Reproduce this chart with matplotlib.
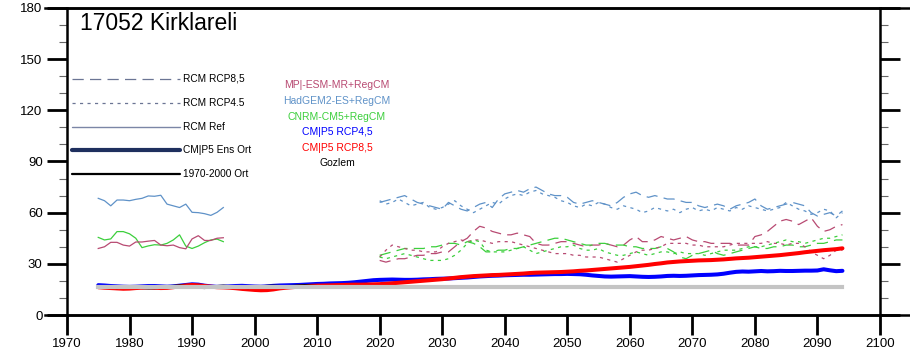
import numpy as np
import matplotlib.pyplot as plt
from matplotlib.lines import Line2D
from matplotlib.ticker import MultipleLocator

plt.rcParams['font.family'] = ['Liberation Sans', 'DejaVu Sans']

# ---- data ----
hist_years = list(range(1975, 1996))
fut_years = list(range(2020, 2095))
cmip_years = list(range(1975, 2095))
obs_years = list(range(1975, 2011))

# RCM reference runs (1975-1995)
had_ref = [68.4, 67.0, 64.0, 67.4, 67.4, 67.0, 67.8, 68.4, 69.8, 69.6, 70.2,
           65.0, 64.0, 63.0, 65.0, 60.2, 60.0, 59.4, 58.4, 60.2, 63.0]
cnrm_ref = [45.5, 44.0, 44.6, 48.9, 48.9, 47.6, 45.0, 39.5, 40.5, 41.2, 41.0,
            42.0, 44.0, 47.0, 40.4, 39.0, 40.4, 42.4, 44.0, 44.5, 43.0]
mpi_ref = [39.0, 40.0, 42.6, 42.6, 41.0, 40.4, 42.8, 42.8, 43.3, 43.7, 41.0,
           40.6, 41.0, 39.5, 38.8, 44.6, 46.5, 43.7, 43.7, 45.0, 45.3]

# RCM scenario runs (2020-2094)
had_85 = [66, 67, 68, 69, 70, 68, 66, 65, 64, 63,
          62, 66, 64, 62, 61, 63, 65, 66, 63, 68,
          71, 72, 73, 72, 74, 75, 73, 71, 70, 70,
          69, 66, 65, 66, 67, 66, 65, 64, 66, 69,
          71, 72, 70, 69, 70, 69, 68, 68, 67, 66,
          66, 64, 63, 64, 65, 64, 62, 64, 65, 66,
          68, 64, 62, 63, 64, 65, 66, 65, 64, 60,
          58, 59, 60, 58, 61]
had_45 = [67, 65, 66, 68, 66, 64, 65, 66, 63, 62,
          63, 65, 67, 64, 62, 60, 62, 64, 66, 65,
          68, 70, 71, 70, 72, 73, 71, 70, 69, 67,
          66, 64, 63, 65, 64, 66, 65, 63, 62, 64,
          63, 62, 60, 61, 63, 62, 61, 62, 60, 62,
          63, 61, 62, 61, 63, 62, 61, 63, 62, 64,
          63, 62, 61, 62, 63, 66, 64, 62, 61, 59,
          60, 62, 61, 57, 60]
mpi_85 = [32, 31, 32, 33, 33, 34, 35, 35, 36, 36,
          37, 37, 40, 43, 45, 49, 52, 51, 49, 48,
          47, 47, 48, 47, 46, 42, 41, 41, 42, 43,
          43, 42, 41, 40, 41, 41, 42, 41, 40, 41,
          44, 46, 43, 43, 44, 46, 45, 44, 45, 46,
          44, 43, 43, 42, 42, 42, 42, 41, 41, 41,
          46, 47, 49, 52, 55, 56, 55, 53, 55, 57,
          52, 49, 50, 52, 53]
mpi_45 = [34, 38, 41, 40, 39, 38, 38, 37, 37, 37,
          40, 42, 43, 44, 43, 44, 44, 43, 42, 43,
          43, 43, 42, 41, 40, 39, 38, 37, 36, 36,
          36, 35, 35, 34, 34, 34, 33, 32, 31, 33,
          35, 37, 38, 38, 39, 40, 42, 42, 42, 42,
          41, 41, 40, 40, 40, 40, 41, 42, 42, 42,
          42, 42, 43, 42, 42, 41, 42, 42, 40, 37,
          35, 33, 35, 38, 38]
cnrm_85 = [35, 36, 37, 38, 39, 39, 39, 39, 40, 40,
           41, 42, 42, 41, 43, 42, 40, 37, 37, 38,
           38, 39, 39, 40, 41, 42, 43, 44, 45, 45,
           44, 43, 42, 41, 41, 42, 42, 41, 41, 41,
           40, 40, 39, 39, 39, 40, 39, 37, 34, 33,
           35, 36, 37, 38, 36, 35, 36, 37, 38, 39,
           40, 39, 39, 40, 40, 41, 41, 40, 40, 41,
           42, 42, 43, 44, 44]
cnrm_45 = [34, 33, 34, 35, 36, 35, 34, 33, 32, 32,
           32, 33, 35, 38, 42, 44, 43, 38, 37, 37,
           37, 38, 39, 40, 38, 36, 37, 38, 39, 40,
           40, 41, 39, 38, 38, 39, 37, 36, 35, 35,
           36, 37, 36, 35, 36, 37, 37, 36, 37, 36,
           36, 36, 35, 36, 37, 38, 38, 38, 39, 40,
           40, 40, 41, 42, 43, 44, 43, 43, 42, 43,
           44, 45, 45, 46, 47]

# CMIP5 ensemble means (1975-2094)
cmip_45 = [17.5, 17.3, 17.0, 16.8, 16.6, 16.5, 16.6, 16.8, 17.0, 17.0, 16.8,
           16.6, 16.8, 17.2, 17.6, 18.0, 17.8, 17.2, 16.8, 16.5, 16.6,
           16.8, 17.0, 17.1, 16.9, 16.7, 16.6, 16.8, 17.1, 17.3, 17.4,
           17.5, 17.6, 17.8, 18.0, 18.2, 18.3, 18.5, 18.6, 18.7, 18.9,
           19.2, 19.6, 20.0, 20.4, 20.6, 20.7, 20.8, 20.7, 20.6, 20.6,
           20.7, 20.9, 21.0, 21.2, 21.3, 21.4, 21.6, 21.8, 22.0, 22.3,
           22.6, 22.8, 23.0, 23.1, 23.3, 23.4, 23.5, 23.6, 23.6, 23.7,
           23.8, 23.9, 24.0, 24.0, 24.1, 24.0, 23.9, 23.6, 23.2, 22.9,
           22.6, 22.5, 22.6, 22.7, 22.8, 22.6, 22.4, 22.3, 22.4, 22.6,
           22.9, 23.0, 22.9, 23.0, 23.2, 23.4, 23.5, 23.6, 23.8, 24.2,
           24.8, 25.3, 25.5, 25.4, 25.6, 25.8, 25.6, 25.7, 25.9, 25.8,
           25.8, 25.9, 26.0, 26.0, 26.1, 26.8, 26.2, 25.7, 25.9]
cmip_85 = [16.3, 16.0, 15.8, 15.6, 15.4, 15.5, 15.8, 16.0, 16.2, 16.0, 15.8,
           15.9, 16.3, 16.8, 17.3, 17.6, 17.4, 17.0, 16.6, 16.3, 16.2,
           16.0, 15.7, 15.3, 15.0, 14.7, 14.5, 14.6, 15.0, 15.6, 16.0,
           16.3, 16.6, 16.9, 17.1, 17.2, 17.3, 17.4, 17.5, 17.6, 17.7,
           17.8, 17.8, 17.9, 18.0, 18.1, 18.3, 18.6, 18.9, 19.2, 19.5,
           19.8, 20.1, 20.4, 20.7, 21.0, 21.4, 21.8, 22.2, 22.5, 22.8,
           23.0, 23.2, 23.4, 23.5, 23.7, 23.9, 24.1, 24.3, 24.6, 24.8,
           24.9, 25.0, 25.1, 25.2, 25.4, 25.6, 25.9, 26.1, 26.4, 26.7,
           27.0, 27.3, 27.6, 27.9, 28.2, 28.6, 29.0, 29.4, 29.9, 30.3,
           30.8, 31.1, 31.4, 31.6, 31.8, 32.0, 32.1, 32.2, 32.4, 32.6,
           32.9, 33.2, 33.4, 33.6, 33.9, 34.2, 34.5, 34.8, 35.1, 35.5,
           35.9, 36.3, 36.8, 37.2, 37.6, 38.0, 38.3, 38.6, 39.1]

# observations (Gozlem) and their 1970-2000 mean
obs = [16.8, 16.5, 16.2, 16.0, 16.3, 16.6, 16.4, 16.0, 15.8, 15.9, 16.2, 16.6,
       16.9, 17.1, 16.8, 16.5, 16.2, 16.0, 16.4, 16.8, 17.0, 16.7, 16.3, 16.1,
       16.0, 16.3, 16.6, 16.9, 17.0, 16.8, 16.7, 16.9, 17.1, 17.3, 17.0, 16.8]
obs_mean = 16.5

C_MPI = '#b84a72'
C_HAD = '#5f92c8'
C_CNRM = '#3ccf3c'

LONG = (0, (9, 5))
SHORT = (0, (2.5, 3.5))

fig = plt.figure(figsize=(9.1, 3.61), dpi=100)
ax = fig.add_axes([0.0736, 0.1274, 0.8934, 0.8506])

# scenario RCM runs
for vals, c in [(had_85, C_HAD), (mpi_85, C_MPI), (cnrm_85, C_CNRM)]:
    ax.plot(fut_years, vals, color=c, lw=0.9, linestyle=LONG)
for vals, c in [(had_45, C_HAD), (mpi_45, C_MPI), (cnrm_45, C_CNRM)]:
    ax.plot(fut_years, vals, color=c, lw=0.9, linestyle=SHORT)

# reference RCM runs
for vals, c in [(had_ref, C_HAD), (cnrm_ref, C_CNRM), (mpi_ref, C_MPI)]:
    ax.plot(hist_years, vals, color=c, lw=0.9)

# CMIP5 ensemble means
ax.plot(cmip_years, cmip_45, color='#0000ff', lw=2.9, solid_capstyle='round')
ax.plot(cmip_years, cmip_85, color='#ff0000', lw=2.9, solid_capstyle='round')
ax.plot(obs_years, obs, color='black', lw=2.0)
ax.plot(cmip_years, np.full(len(cmip_years), obs_mean), color='#c4c4c4', lw=3.0)

ax.set_xlim(1970, 2100)
ax.set_ylim(0, 180)
ax.xaxis.set_major_locator(MultipleLocator(10))
ax.yaxis.set_major_locator(MultipleLocator(30))
ax.yaxis.set_minor_locator(MultipleLocator(10))
ax.tick_params(axis='y', which='major', direction='out', length=14.5, width=2.0,
               labelsize=9.5, left=True, right=True, pad=3)
ax.tick_params(axis='y', which='minor', direction='out', length=6, width=0.8,
               color='#666666', left=True, right=True)
ax.tick_params(axis='x', which='major', direction='out', length=14.5, width=2.0,
               labelsize=9.5, pad=2)
for s in ax.spines.values():
    s.set_linewidth(1.8)

# top and bottom frame lines run out past the side axes, as in the source panel
for yf in (0.9782, 0.1274):
    fig.add_artist(Line2D([45 / 910, 1.0], [yf, yf], color='black', lw=1.8,
                          transform=fig.transFigure))

# title
ax.text(0.016, 0.95, '17052 Kirklareli', transform=ax.transAxes,
        fontsize=16.5, va='center', ha='left')

# line-style key
key_rows = [
    ('RCM RCP8,5', '#6b7594', 0.9, LONG, 0.769),
    ('RCM RCP4.5', '#6b7594', 0.9, SHORT, 0.691),
    ('RCM Ref', '#7b86a6', 1.0, '-', 0.612),
    ('CM|P5 Ens Ort', '#1e2f5e', 3.0, '-', 0.537),
    ('1970-2000 Ort', 'black', 1.6, '-', 0.459),
]
for label, c, lw, ls, yy in key_rows:
    ax.plot([0.006, 0.139], [yy, yy], transform=ax.transAxes, color=c,
            lw=lw, linestyle=ls, solid_capstyle='round')
    ax.text(0.143, yy, label, transform=ax.transAxes, fontsize=7.3,
            va='center', ha='left')

# colour key
colour_rows = [
    ('MP|-ESM-MR+RegCM', C_MPI, 0.749),
    ('HadGEM2-ES+RegCM', C_HAD, 0.697),
    ('CNRM-CM5+RegCM', C_CNRM, 0.645),
    ('CM|P5 RCP4,5', '#0000ff', 0.596),
    ('CM|P5 RCP8,5', '#ff0000', 0.544),
    ('Gozlem', 'black', 0.495),
]
for label, c, yy in colour_rows:
    ax.text(0.332, yy, label, transform=ax.transAxes, fontsize=7.5,
            color=c, va='center', ha='center')

fig.savefig('out.png', dpi=100)
